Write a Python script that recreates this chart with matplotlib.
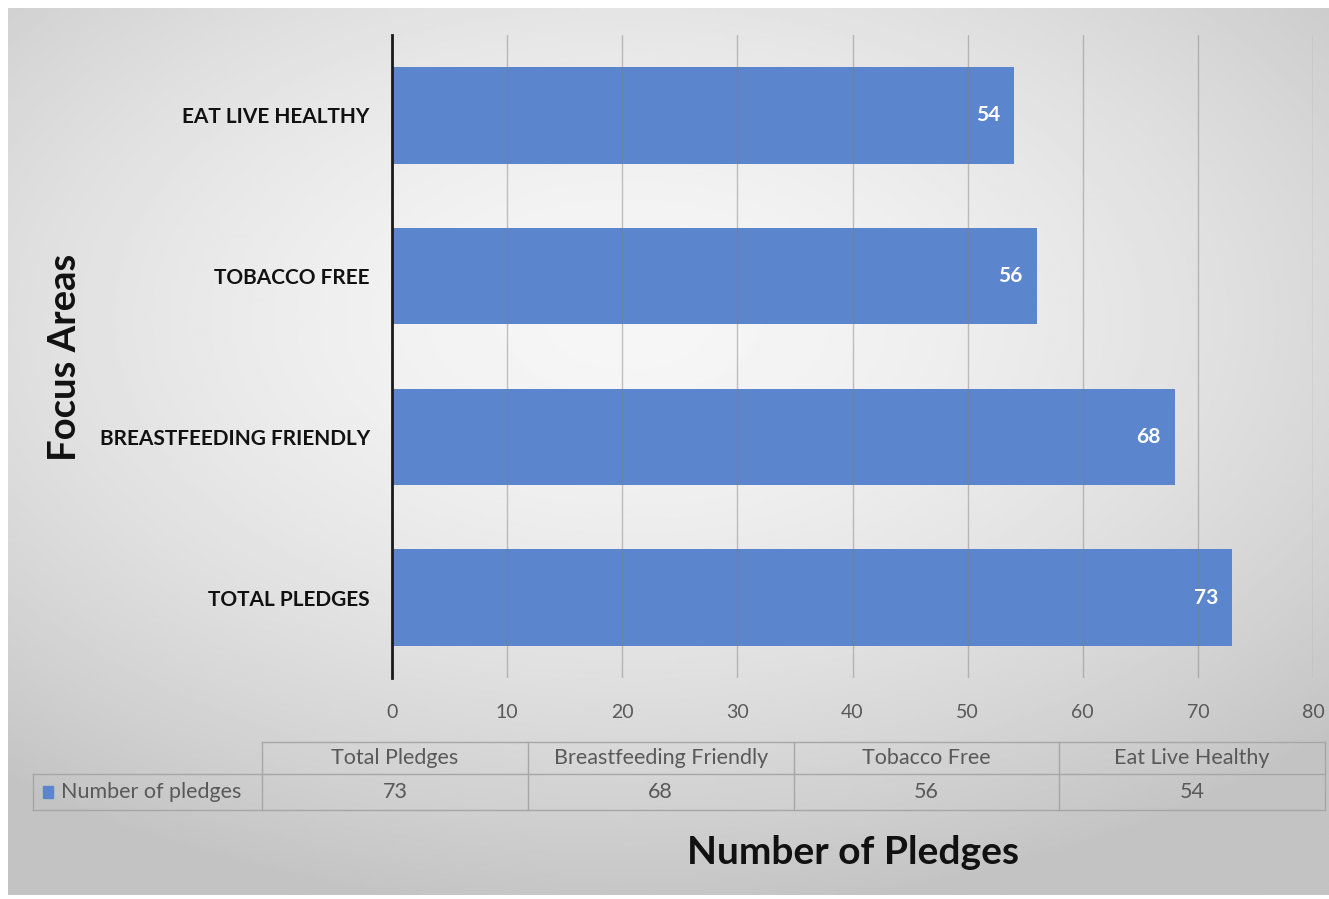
import numpy as np
import matplotlib
matplotlib.use("Agg")
import matplotlib.pyplot as plt
from matplotlib.lines import Line2D
from matplotlib.patches import Rectangle

# data
categories = ["TOTAL PLEDGES", "BREASTFEEDING FRIENDLY", "TOBACCO FREE", "EAT LIVE HEALTHY"]
table_labels = ["Total Pledges", "Breastfeeding Friendly", "Tobacco Free", "Eat Live Healthy"]
pledges = [73, 68, 56, 54]
series_name = "Number of pledges"

W, H = 1329, 899
bar_color = "#5B85CC"
font = ["Lato", "DejaVu Sans"]
plt.rcParams["font.family"] = font

fig = plt.figure(figsize=(W / 100, H / 100), dpi=100)
fig.patch.set_facecolor("white")

# gradient background panel
bg = fig.add_axes([8 / W, 4 / H, (W - 8) / W, (H - 12) / H])
bg.set_axis_off()
yy, xx = np.mgrid[0:1:300j, 0:1:440j]
r = np.sqrt(((xx - 0.47) / 1.0) ** 2 + ((yy - 0.35) / 0.9) ** 2)
shade = 0.965 - 0.2 * np.clip(r / 0.75, 0, 1) ** 1.6
bg.imshow(shade, cmap="gray", vmin=0, vmax=1, aspect="auto", extent=[0, 1, 1, 0])
bg.set_xlim(0, 1)
bg.set_ylim(1, 0)

# main axes
x0, x1 = 392, 1313
y0, y1 = 35, 678
ax = fig.add_axes([x0 / W, 1 - y1 / H, (x1 - x0) / W, (y1 - y0) / H])
ax.patch.set_alpha(0)
ypos = np.arange(len(categories))
bars = ax.barh(ypos, pledges, height=0.6, color=bar_color, zorder=2)
ax.set_xlim(0, 80)
ax.set_ylim(-0.5, len(categories) - 0.5)
ax.set_xticks(range(0, 81, 10))
ax.grid(axis="x", color="#7f7f7f", linewidth=1, alpha=0.45, zorder=3)
ax.set_axisbelow(False)
for s in ["top", "right", "bottom"]:
    ax.spines[s].set_visible(False)
ax.spines["left"].set_color("#1a1a1a")
ax.spines["left"].set_linewidth(2)
ax.spines["left"].set_zorder(4)
ax.tick_params(axis="both", length=0)
ax.tick_params(axis="x", labelsize=14, colors="#595959", pad=19)
ax.set_yticks(ypos)
ax.set_yticklabels(categories, fontsize=15, fontweight="bold", color="#111111")
ax.tick_params(axis="y", pad=16)
for b, v in zip(bars, pledges):
    ax.annotate(str(v), (b.get_width(), b.get_y() + b.get_height() / 2),
                xytext=(-10, 0), textcoords="offset points", ha="right", va="center",
                color="white", fontsize=15, fontweight="bold", zorder=5)

# axis titles
fig.text(853 / W, 1 - 853 / H, "Number of Pledges", ha="center", va="center",
         fontsize=28, fontweight="bold", color="#111111")
fig.text(65 / W, 1 - 357 / H, "Focus Areas", ha="center", va="center", rotation=90,
         fontsize=27.5, fontweight="bold", color="#111111")

# data table below the chart
tbl = fig.add_axes([0, 0, 1, 1])
tbl.set_axis_off()
tbl.set_xlim(0, W)
tbl.set_ylim(H, 0)
tbl.patch.set_alpha(0)
lc = "#a6a6a6"
col_edges = np.linspace(262, 1325, len(table_labels) + 1)
r0, r1, r2 = 742, 774, 810
tbl.add_line(Line2D([col_edges[0], col_edges[-1]], [r0, r0], color=lc, lw=1))
for yv in (r1, r2):
    tbl.add_line(Line2D([33, col_edges[-1]], [yv, yv], color=lc, lw=1))
for xv in col_edges:
    tbl.add_line(Line2D([xv, xv], [r0, r2], color=lc, lw=1))
tbl.add_line(Line2D([33, 33], [r1, r2], color=lc, lw=1))
for i, (lab, v) in enumerate(zip(table_labels, pledges)):
    cx = (col_edges[i] + col_edges[i + 1]) / 2
    tbl.text(cx, (r0 + r1) / 2, lab, ha="center", va="center", fontsize=15.5, color="#595959")
    tbl.text(cx, (r1 + r2) / 2, str(v), ha="center", va="center", fontsize=15.5, color="#595959")
tbl.add_patch(Rectangle((43, 786), 10, 12, color=bar_color))
tbl.text(61, (r1 + r2) / 2, series_name, ha="left", va="center", fontsize=15.5, color="#595959")

fig.savefig("out.png", dpi=100)
